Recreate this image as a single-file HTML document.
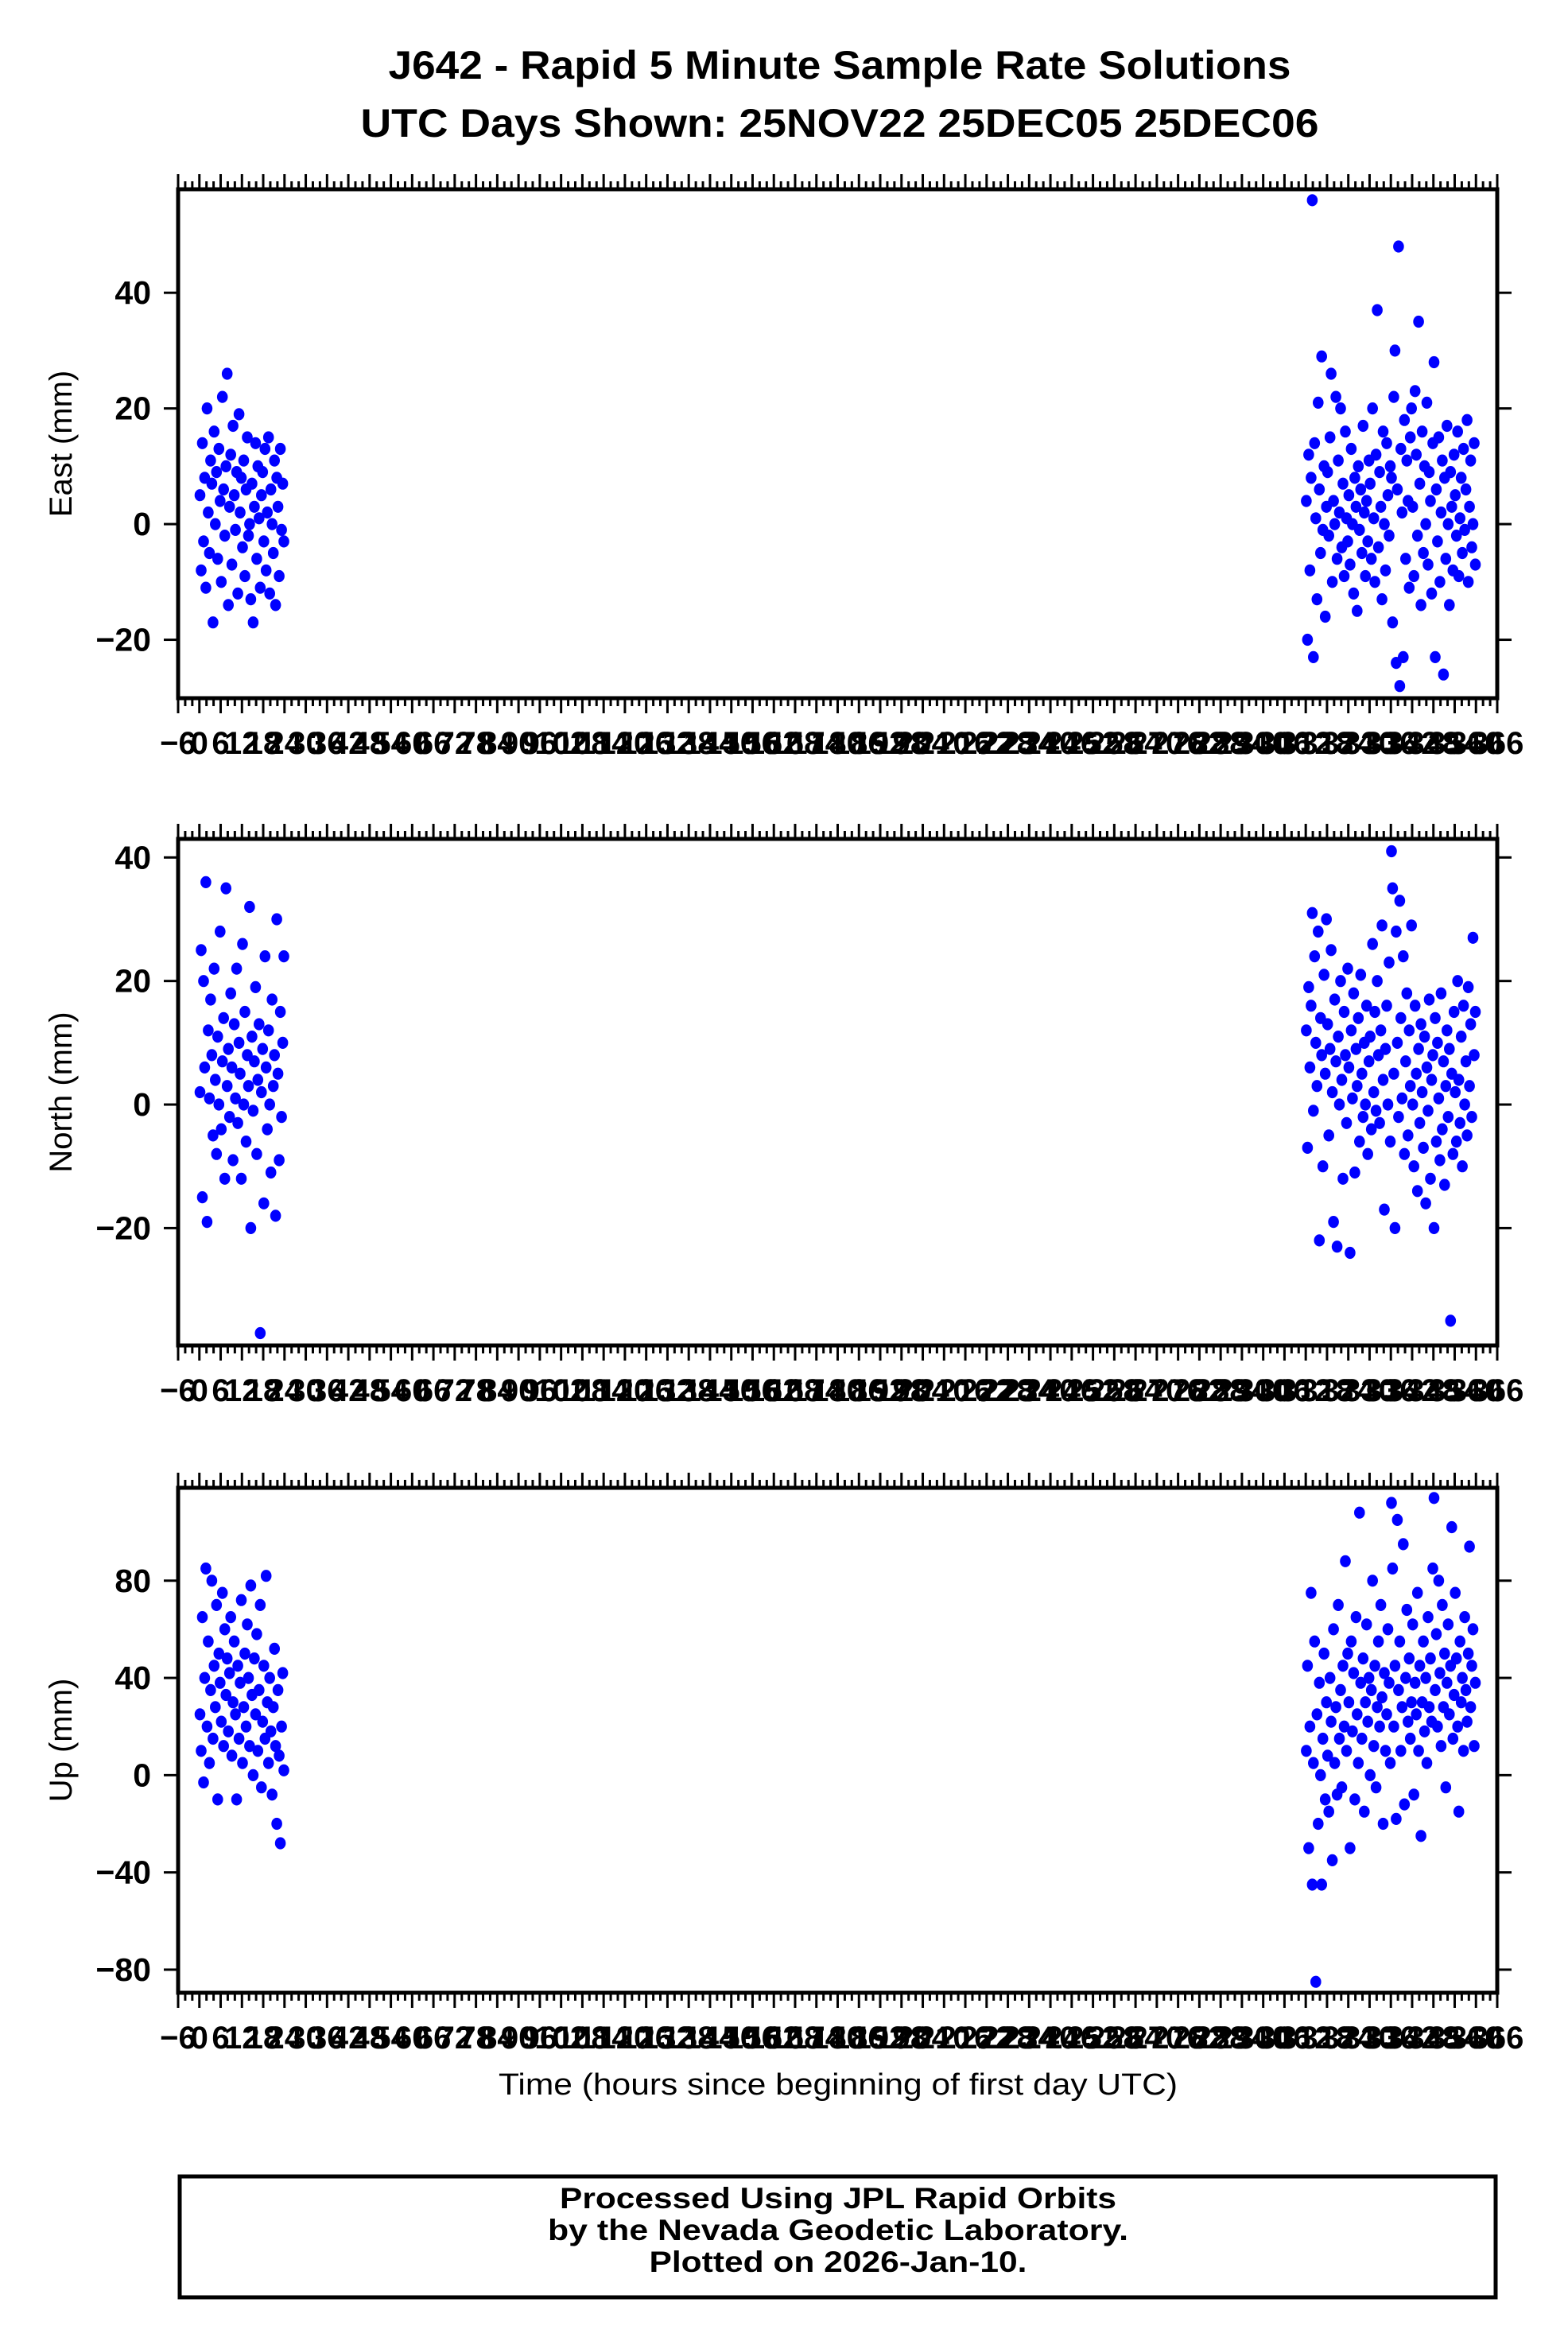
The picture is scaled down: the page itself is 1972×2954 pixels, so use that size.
<!DOCTYPE html>
<html><head><meta charset="utf-8"><title>J642 Rapid 5 Minute Solutions</title>
<style>
html,body{margin:0;padding:0;background:#fff;}
svg{display:block;font-family:"Liberation Sans",Arial,sans-serif;}
</style></head>
<body>
<svg id="chart" xmlns="http://www.w3.org/2000/svg" width="1972" height="2954" viewBox="0 0 1972 2954">
<rect x="0" y="0" width="1972" height="2954" fill="#fff"/>
<text x="1056" y="99" text-anchor="middle" font-size="50" font-weight="bold" textLength="1135" lengthAdjust="spacingAndGlyphs">J642 - Rapid 5 Minute Sample Rate Solutions</text>
<text x="1056" y="172" text-anchor="middle" font-size="50" font-weight="bold" textLength="1205" lengthAdjust="spacingAndGlyphs">UTC Days Shown:  25NOV22 25DEC05 25DEC06</text>
<g id="panels"></g>
<text x="1054" y="2634" text-anchor="middle" font-size="38" textLength="854" lengthAdjust="spacingAndGlyphs">Time (hours since beginning of first day UTC)</text>
<rect x="226" y="2737" width="1655" height="152" fill="none" stroke="#000" stroke-width="5"/>
<g font-weight="bold" font-size="37" text-anchor="middle">
<text x="1054" y="2777" textLength="700" lengthAdjust="spacingAndGlyphs">Processed Using JPL Rapid Orbits</text>
<text x="1054" y="2817" textLength="730" lengthAdjust="spacingAndGlyphs">by the Nevada Geodetic Laboratory.</text>
<text x="1054" y="2857" textLength="475" lengthAdjust="spacingAndGlyphs">Plotted on 2026-Jan-10.</text>
</g>
</svg>
<script>
// ---- data ----
const dayStartHours = [0, 312];        // start hour of each data block
const sampleIntervalHours = 1/3;       // 20-minute samples
const xTickLabels = [];                // filled from tick range below
const xMin = -6, xMax = 366, xMajor = 6, xMinor = 2;

const eastBlock1 = [5,-8,14,-3,8,-11,20,2,-5,11,7,-17,16,0,9,-6,13,4,-10,22,6,-2,10,26,-14,3,12,-7,17,5,-1,9,-12,19,2,8,-4,11,-9,6,15,-2,0,-13,7,-17,3,14,-6,10,1,-11,5,9,-3,13,-8,2,15,-12,6,0,-5,11,-14,8,3,-9,13,-1,7,-3];
const eastBlock2 = [4,-20,12,-8,8,56,-23,14,1,-13,21,6,-5,29,-1,10,-16,3,
9,-2,15,26,-10,4,0,22,-6,11,2,20,-4,7,-9,16,1,-3,
5,-7,13,0,-12,8,3,-15,10,-1,6,-5,17,2,-9,4,-3,11,
7,-6,20,1,-10,12,37,-4,9,3,-13,16,0,-8,14,5,-2,10,
8,-17,22,30,-24,6,48,-28,13,2,-23,18,-6,11,4,-11,15,20,
3,-9,23,12,-2,35,7,-14,16,-5,10,0,21,-7,9,4,-12,14,
28,-23,6,-3,15,-10,2,11,-26,8,-6,17,0,-14,9,3,-8,12,
5,-2,16,-9,1,8,-5,13,-1,6,18,-10,3,11,-4,0,14,-7];

const northBlock1 = [2,25,-15,20,6,36,-19,12,1,17,8,-5,22,4,-8,11,0,28,-4,7,14,-12,35,3,9,-2,18,6,-9,13,1,22,-3,10,5,-12,26,0,15,-6,8,3,32,-20,11,-1,7,19,-8,4,13,-37,2,9,-16,24,6,-4,12,0,-11,17,3,8,-18,30,5,-9,15,-2,10,24];
const northBlock2 = [12,-7,19,6,16,31,-1,24,10,3,28,-22,14,8,-10,21,5,30,
13,-5,9,25,2,-19,17,7,-23,11,0,20,4,-12,15,8,-3,22,
6,-24,12,1,18,-11,9,3,14,-6,21,5,-2,10,0,16,-8,7,
11,-4,26,2,15,-1,20,8,-3,12,29,4,-17,9,16,0,23,-6,
41,35,5,-20,28,10,-2,33,14,1,24,-8,7,18,-5,12,3,29,
0,-10,16,5,-14,9,-3,13,2,-7,11,-16,6,-1,17,-12,4,8,
-20,14,-6,10,1,-9,18,-4,7,-13,3,12,-2,9,-35,5,-8,15,
2,-6,20,4,-3,11,-10,16,0,7,-5,19,3,13,-2,27,8,15];

const upBlock1 = [25,10,65,-3,40,85,20,55,5,35,80,15,45,28,70,-10,50,38,22,75,12,60,33,48,18,42,65,8,30,55,25,-10,45,15,38,72,5,28,50,20,62,40,12,78,33,0,48,25,58,10,35,70,-5,22,45,15,82,30,5,40,18,-8,28,52,12,-20,35,8,-28,20,42,2];
const upBlock2 = [10,45,-30,20,75,-45,5,55,-85,25,-20,38,0,-45,15,50,-10,30,
8,-15,40,22,-35,60,5,28,-8,70,15,35,-5,45,20,88,10,50,
30,-30,55,18,42,-10,65,25,5,108,38,15,48,-15,30,62,22,40,
0,35,80,12,45,-5,28,55,20,70,32,-20,42,10,25,60,38,5,
112,85,20,45,-18,105,35,55,10,28,95,-12,40,68,22,48,15,30,
62,-8,38,25,75,10,45,-25,30,55,18,40,5,65,28,48,22,85,
114,35,58,20,80,42,12,70,28,50,-5,38,62,25,45,102,15,33,
75,48,20,-15,55,30,40,10,65,35,22,50,94,28,45,60,12,38];

const eastTicks = [40,20,0,-20];
const northTicks = [40,20,0,-20];
const upTicks = [80,40,0,-40,-80];

// ---- layout ----
const NS = "http://www.w3.org/2000/svg";
const PL = 224, PR = 1883;
const panelsDef = [
  {name:"east", label:"East (mm)", top:238, bottom:878, ymin:-30.1, ymax:57.9, ticks:eastTicks, blocks:[eastBlock1, eastBlock2]},
  {name:"north", label:"North (mm)", top:1055, bottom:1692, ymin:-39.0, ymax:43.0, ticks:northTicks, blocks:[northBlock1, northBlock2]},
  {name:"up", label:"Up (mm)", top:1871, bottom:2506, ymin:-89.5, ymax:118.2, ticks:upTicks, blocks:[upBlock1, upBlock2]}
];
function xScale(h){ return PL + (h - xMin) / (xMax - xMin) * (PR - PL); }
for (let v = xMin; v <= xMax; v += xMajor) xTickLabels.push(v);

function mk(tag, attrs, parent){
  const e = document.createElementNS(NS, tag);
  for (const k in attrs) e.setAttribute(k, attrs[k]);
  parent.appendChild(e);
  return e;
}
const root = document.getElementById("panels");
panelsDef.forEach(p => {
  const yScale = v => p.bottom - (v - p.ymin) / (p.ymax - p.ymin) * (p.bottom - p.top);
  const g = mk("g", {}, root);
  
  
  const pts = mk("g", {fill:"#0000ff"}, g);
  
  
  p.blocks.forEach((blk, bi) => {
    blk.forEach((v, i) => {
      const h = dayStartHours[bi] + (i + 0.5) * sampleIntervalHours;
      const c = mk("ellipse", {cx:xScale(h).toFixed(1), cy:yScale(v).toFixed(1), rx:6.8, ry:7.6}, pts);
      
      
    });
  });
  const fr = mk("rect", {x:PL, y:p.top, width:PR-PL, height:p.bottom-p.top, fill:"none", stroke:"#000", "stroke-width":5}, g);
  
  
  const xt = mk("g", {stroke:"#000", "stroke-width":3}, g);
  
  
  for (let h = xMin; h <= xMax; h += xMinor) {
    const x = xScale(h);
    const len = ((h - xMin) % xMajor === 0) ? 17 : 8;
    mk("line", {x1:x, x2:x, y1:p.top-2, y2:p.top-2-len}, xt);
    mk("line", {x1:x, x2:x, y1:p.bottom+2, y2:p.bottom+2+len}, xt);
  }
  const xl = mk("g", {"font-size":40, "font-weight":"bold", "text-anchor":"middle"}, g);
  
  
  xTickLabels.forEach(v => {
    const t = mk("text", {x:xScale(v).toFixed(1), y:p.bottom+70}, xl);
    t.textContent = v < 0 ? "\u2212" + Math.abs(v) : String(v);
  });
  const yt = mk("g", {stroke:"#000", "stroke-width":3}, g);
  
  
  const yl = mk("g", {"font-size":41, "font-weight":"bold", "text-anchor":"end"}, g);
  
  
  p.ticks.forEach(v => {
    const y = yScale(v);
    mk("line", {x1:PL-2, x2:PL-18, y1:y, y2:y}, yt);
    mk("line", {x1:PR+2, x2:PR+18, y1:y, y2:y}, yt);
    const t = mk("text", {x:190, y:(y+14).toFixed(1)}, yl);
    t.textContent = v < 0 ? "\u2212" + Math.abs(v) : String(v);
  });
  const cy = (p.top + p.bottom) / 2;
  const yt2 = mk("text", {x:0, y:0, "font-size":40, "text-anchor":"middle", transform:"translate(90," + cy + ") rotate(-90)"}, g);
  
  
  yt2.textContent = p.label;
});
</script>
</body></html>
